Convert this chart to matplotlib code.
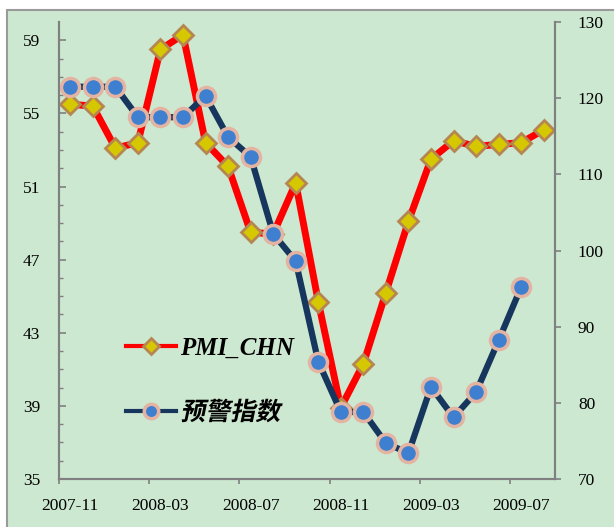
import numpy as np
import matplotlib
matplotlib.use("Agg")
import matplotlib.pyplot as plt
from matplotlib.patches import Rectangle
from matplotlib.patheffects import AbstractPathEffect
from matplotlib.transforms import Affine2D

months = ["2007-11", "2007-12", "2008-01", "2008-02", "2008-03", "2008-04",
          "2008-05", "2008-06", "2008-07", "2008-08", "2008-09", "2008-10",
          "2008-11", "2008-12", "2009-01", "2009-02", "2009-03", "2009-04",
          "2009-05", "2009-06", "2009-07", "2009-08"]
pmi_chn = [55.5, 55.4, 53.1, 53.4, 58.5, 59.3, 53.4, 52.1, 48.5, 48.4, 51.2,
           44.7, 38.9, 41.3, 45.2, 49.1, 52.5, 53.5, 53.2, 53.3, 53.4, 54.1]
warning_idx = [121.5, 121.5, 121.5, 117.5, 117.5, 117.5, 120.3, 114.9, 112.3,
               102.2, 98.6, 85.4, 78.8, 78.8, 74.7, 73.4, 82.1, 78.1, 81.4,
               88.2, 95.2]
label_months = months[::4]

GREEN = "#CDE8D0"
GRAY = "#808080"


class Slant(AbstractPathEffect):
    # fake italic for the CJK font, which has no italic face
    def __init__(self, angle=12):
        super().__init__()
        self.angle = angle

    def draw_path(self, renderer, gc, tpath, affine, rgbFace=None):
        y0 = affine.get_matrix()[1, 2]
        skew = Affine2D().translate(0, -y0).skew_deg(self.angle, 0).translate(0, y0)
        renderer.draw_path(gc, tpath, affine + skew, rgbFace)


fig = plt.figure(figsize=(6.14, 5.27), dpi=100)
fig.patch.set_facecolor("white")
fig.patches.append(Rectangle((7 / 614, -0.01), 1.0, (527 - 10) / 527 + 0.01,
                             transform=fig.transFigure, facecolor=GREEN,
                             edgecolor="#9a9a9a", linewidth=1.5, zorder=-5))

ax = fig.add_axes([59 / 614, 48 / 527, 496 / 614, 457 / 527])
ax.set_facecolor("none")
ax2 = ax.twinx()
ax2.set_facecolor("none")

x = np.arange(len(months))
x2 = np.arange(len(warning_idx))

l1, = ax.plot(x, pmi_chn, color="#FF0000", lw=5, marker="D", markersize=10,
              markerfacecolor="#D6C800", markeredgecolor="#B58552",
              markeredgewidth=2, label="PMI_CHN", solid_joinstyle="round")
l2, = ax2.plot(x2, warning_idx, color="#17365D", lw=4.5, marker="o",
               markersize=13, markerfacecolor="#3F7FCF",
               markeredgecolor="#E4B4A2", markeredgewidth=2.5,
               label="预警指数", solid_joinstyle="round")

ax.set_xlim(-0.5, len(months) - 0.5)
ax.set_ylim(35, 60)
ax2.set_ylim(70, 130)

ax.set_xticks(x[::4])
ax.set_xticklabels(label_months)
ax.set_xticks(np.arange(-0.5, len(months) - 1, 4), minor=True)
ax.tick_params(axis="x", which="major", length=0, pad=14)
ax.tick_params(axis="x", which="minor", length=3.5, width=1.2, color=GRAY,
               direction="out")

ax.set_yticks(np.arange(35, 60, 4))
ax.set_yticks(np.arange(35, 60, 1), minor=True)
ax.tick_params(axis="y", which="major", direction="in", length=5, width=1.2,
               color=GRAY, pad=13.5)
ax.tick_params(axis="y", which="minor", direction="in", length=3, width=1,
               color=GRAY)
ax2.set_yticks(np.arange(70, 131, 10))
ax2.tick_params(axis="y", direction="out", length=4.5, width=1.2, color=GRAY,
                pad=12)

for a in (ax, ax2):
    for lab in a.get_xticklabels() + a.get_yticklabels():
        lab.set_fontfamily("Liberation Serif")
        lab.set_fontsize(12.5)
    a.spines["top"].set_visible(False)
    for s in ("left", "right", "bottom"):
        a.spines[s].set_color(GRAY)
        a.spines[s].set_linewidth(1.5)

leg = ax2.legend(handles=[l1, l2], loc="upper left",
                 bbox_to_anchor=(0.136, 0.312), frameon=False, borderpad=0,
                 borderaxespad=0, handlelength=2.0, handletextpad=0.15,
                 labelspacing=1.66, markerscale=0.8, prop={"size": 18})
for h in leg.legend_handles:
    h.set_linewidth(3)
t1, t2 = leg.get_texts()
t1.set_fontfamily("Liberation Serif")
t1.set_fontweight("bold")
t1.set_fontstyle("italic")
t2.set_fontfamily(["Noto Sans CJK SC", "DejaVu Sans"])
t2.set_fontweight("bold")
t2.set_path_effects([Slant(12)])

fig.savefig("out.png", dpi=100)
